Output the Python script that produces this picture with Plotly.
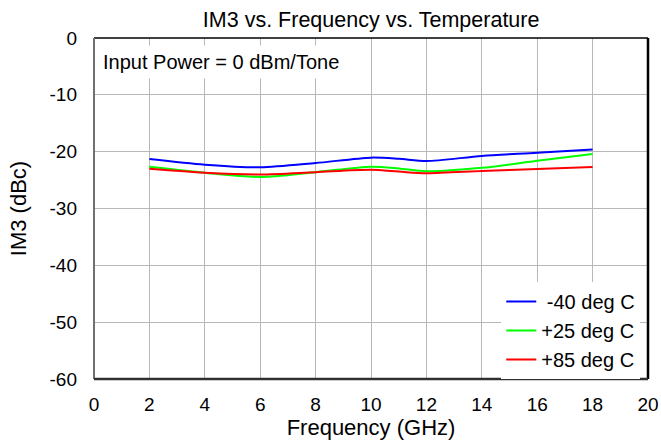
import plotly.graph_objects as go

freq = [2, 4, 6, 8, 10, 11, 12, 14, 16, 18]
im3_m40 = [-21.3, -22.3, -22.75, -22.0, -21.05, -21.25, -21.65, -20.75, -20.2, -19.6]
im3_p25 = [-22.65, -23.7, -24.45, -23.6, -22.65, -22.95, -23.45, -22.85, -21.6, -20.4]
im3_p85 = [-23.0, -23.7, -24.0, -23.6, -23.2, -23.5, -23.8, -23.4, -23.05, -22.7]
series_names = [" -40 deg C", "+25 deg C", "+85 deg C"]
series_colors = ["#0000ff", "#00ff00", "#ff0000"]
x_ticks = [0, 2, 4, 6, 8, 10, 12, 14, 16, 18, 20]
y_ticks = [0, -10, -20, -30, -40, -50, -60]
y_ticktext = ["0", "-10", "-20", "-30", "-40", "-50", "-60"]

FONT = "Liberation Sans, Arial, sans-serif"

fig = go.Figure()
for name, vals, col in zip(series_names, [im3_m40, im3_p25, im3_p85], series_colors):
    fig.add_trace(go.Scatter(
        x=freq, y=vals, name=name, mode="lines",
        line=dict(color=col, width=2, shape="spline", smoothing=0.8),
    ))

fig.update_layout(
    width=661, height=442,
    margin=dict(l=94, r=13, t=38, b=63),
    paper_bgcolor="white", plot_bgcolor="white",
    font=dict(family=FONT, size=19, color="black"),
    title=dict(text="IM3 vs. Frequency vs. Temperature", x=0.5615, xanchor="center",
               y=0.955, yanchor="middle", font=dict(size=21.5, color="black")),
    showlegend=True,
    legend=dict(x=0.986, y=0, xanchor="right", yanchor="bottom", bgcolor="white",
                borderwidth=0, font=dict(size=20), itemwidth=30,
                tracegroupgap=0),
    xaxis=dict(range=[0, 20], tickvals=x_ticks, showgrid=True, gridcolor="#b8b8b8",
               gridwidth=1, zeroline=False, showline=False, ticks="",
               automargin=False, ticklabelstandoff=12,
               title=dict(text="Frequency (GHz)", font=dict(size=22), standoff=5)),
    yaxis=dict(range=[-60, 0], tickvals=y_ticks, ticktext=y_ticktext, showgrid=True,
               gridcolor="#b8b8b8", gridwidth=1, zeroline=False, showline=False,
               ticks="", automargin=False, ticklabelstandoff=16,
               title=dict(text="IM3 (dBc)", font=dict(size=22), standoff=16)),
    shapes=[
        dict(type="line", xref="paper", yref="paper", x0=0, x1=1, y0=1, y1=1,
             line=dict(color="black", width=1.5)),
        dict(type="line", xref="paper", yref="paper", x0=0, x1=0, y0=0, y1=1,
             line=dict(color="#707070", width=2)),
        dict(type="line", xref="paper", yref="paper", x0=1, x1=1, y0=0, y1=1,
             line=dict(color="black", width=2.5)),
        dict(type="line", xref="paper", yref="paper", x0=0, x1=1, y0=0, y1=0,
             line=dict(color="#303030", width=2.5)),
    ],
    annotations=[
        dict(text="Input Power = 0 dBm/Tone", xref="paper", yref="paper",
             x=0.006, y=0.98, xanchor="left", yanchor="top", showarrow=False,
             bgcolor="white", borderpad=5, font=dict(size=20)),
    ],
)

fig.write_html("out.html")
